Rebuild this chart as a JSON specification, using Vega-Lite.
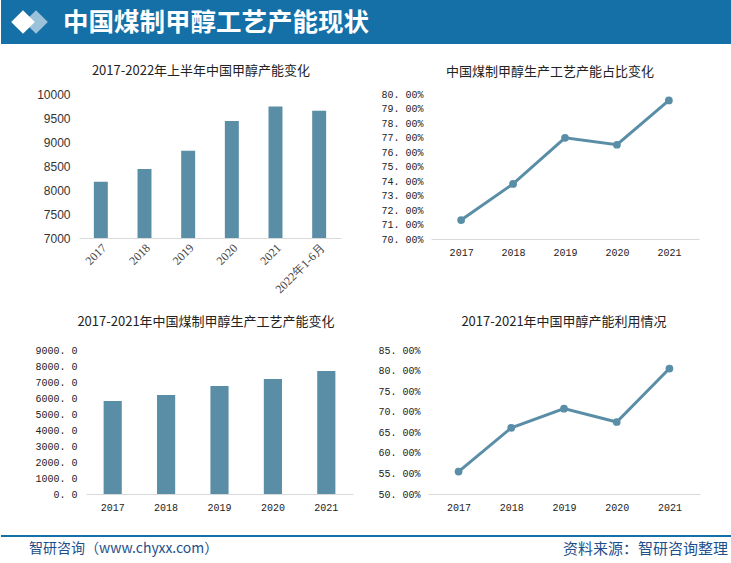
{
  "$schema": "https://vega.github.io/schema/vega-lite/v6.json",
  "background": "white",
  "padding": 0,
  "config": {
    "view": {"stroke": null},
    "axis": {"grid": false, "ticks": false, "domain": false, "labelColor": "#333333", "title": null},
    "title": {"font": "Noto Sans CJK SC", "fontSize": 13, "fontWeight": "normal", "color": "#222222"}
  },
  "datasets": {
    "cap": [
      {"year": "2017", "value": 8170},
      {"year": "2018", "value": 8440},
      {"year": "2019", "value": 8820},
      {"year": "2020", "value": 9440},
      {"year": "2021", "value": 9740},
      {"year": "2022年1-6月", "value": 9650}
    ],
    "share": [
      {"year": "2017", "value": 0.7131},
      {"year": "2018", "value": 0.7380},
      {"year": "2019", "value": 0.7698},
      {"year": "2020", "value": 0.7650},
      {"year": "2021", "value": 0.7956}
    ],
    "coal": [
      {"year": "2017", "value": 5812},
      {"year": "2018", "value": 6188},
      {"year": "2019", "value": 6750},
      {"year": "2020", "value": 7188},
      {"year": "2021", "value": 7688}
    ],
    "util": [
      {"year": "2017", "value": 0.5545},
      {"year": "2018", "value": 0.6610},
      {"year": "2019", "value": 0.7075},
      {"year": "2020", "value": 0.6750},
      {"year": "2021", "value": 0.8050}
    ],
    "header": [{"t": "中国煤制甲醇工艺产能现状"}],
    "footer": [{"l": "智研咨询（www.chyxx.com）", "r": "资料来源：智研咨询整理"}]
  },
  "columns": 1,
  "align": "none",
  "spacing": 21,
  "concat": [
    {
      "width": 731,
      "height": 44,
      "view": {"fill": "#1570a8", "stroke": null},
      "data": {"name": "header"},
      "layer": [
        {"mark": {"type": "point", "shape": "diamond", "filled": true, "color": "#9cc2da", "opacity": 1, "size": 560, "strokeWidth": 0}, "encoding": {"x": {"value": 35}, "y": {"value": 22}}},
        {"mark": {"type": "point", "shape": "diamond", "filled": true, "color": "#ffffff", "opacity": 1, "size": 560, "strokeWidth": 0}, "encoding": {"x": {"value": 22}, "y": {"value": 22}}},
        {"mark": {"type": "text", "align": "left", "baseline": "middle", "color": "#ffffff", "font": "Noto Sans CJK SC", "fontSize": 25.5, "fontWeight": "bold"}, "encoding": {"text": {"field": "t"}, "x": {"value": 62}, "y": {"value": 23}}}
      ]
    },
    {
      "columns": 1,
      "align": "none",
      "spacing": 20,
      "concat": [
        {
          "spacing": 20,
          "hconcat": [
            {
              "width": 340,
              "height": 144,
              "title": {"text": "2017-2022年上半年中国甲醇产能变化", "offset": 10, "dx": 30},
              "data": {"name": "cap"},
              "mark": {"type": "bar", "color": "#5a8ea7", "clip": true},
              "encoding": {
                "x": {"field": "year", "type": "nominal", "sort": null, "scale": {"range": [78, 340], "paddingInner": 0.68, "paddingOuter": 0.34},
                  "axis": {"labelAngle": -45, "labelFont": "Liberation Serif", "labelFontSize": 12, "labelColor": "#444444", "domain": true, "domainColor": "#d9d9d9", "labelPadding": 4}},
                "y": {"field": "value", "type": "quantitative", "scale": {"domain": [7000, 10000], "zero": false, "nice": false},
                  "axis": {"values": [7000, 7500, 8000, 8500, 9000, 9500, 10000], "format": "d", "labelFont": "Liberation Sans", "labelFontSize": 12, "labelPadding": 9, "offset": -78, "minExtent": 0}}
              }
            },
            {
              "width": 268,
              "height": 145,
              "title": {"text": "中国煤制甲醇生产工艺产能占比变化", "offset": 10, "dx": -15},
              "data": {"name": "share"},
              "encoding": {
                "x": {"field": "year", "type": "nominal", "sort": null, "scale": {"type": "point", "padding": 0.58},
                  "axis": {"labelAngle": 0, "labelFont": "Liberation Mono", "labelFontSize": 10, "labelColor": "#222222", "domain": true, "domainColor": "#d9d9d9", "labelPadding": 8}},
                "y": {"field": "value", "type": "quantitative", "scale": {"domain": [0.7, 0.8], "zero": false, "nice": false},
                  "axis": {"values": [0.70, 0.71, 0.72, 0.73, 0.74, 0.75, 0.76, 0.77, 0.78, 0.79, 0.80], "format": ".2%", "labelExpr": "replace(datum.label, '.', '. ')", "labelFont": "Liberation Mono", "labelFontSize": 10, "labelColor": "#222222", "labelPadding": 8, "minExtent": 70, "maxExtent": 70}}
              },
              "layer": [
                {"mark": {"type": "line", "color": "#5a8ea7", "strokeWidth": 3}},
                {"mark": {"type": "point", "filled": true, "color": "#5a8ea7", "opacity": 1, "size": 60}}
              ]
            }
          ]
        },
        {
          "spacing": 20,
          "hconcat": [
            {
              "width": 352,
              "height": 144,
              "title": {"text": "2017-2021年中国煤制甲醇生产工艺产能变化", "offset": 16, "dx": 29},
              "data": {"name": "coal"},
              "mark": {"type": "bar", "color": "#5a8ea7"},
              "encoding": {
                "x": {"field": "year", "type": "nominal", "sort": null, "scale": {"range": [85, 352], "paddingInner": 0.66, "paddingOuter": 0.33},
                  "axis": {"labelAngle": 0, "labelFont": "Liberation Mono", "labelFontSize": 10, "labelColor": "#222222", "domain": true, "domainColor": "#d9d9d9", "labelPadding": 8}},
                "y": {"field": "value", "type": "quantitative", "scale": {"domain": [0, 9000], "nice": false},
                  "axis": {"values": [0, 1000, 2000, 3000, 4000, 5000, 6000, 7000, 8000, 9000], "format": ".1f", "labelExpr": "replace(datum.label, '.', '. ')", "labelFont": "Liberation Mono", "labelFontSize": 10, "labelColor": "#222222", "labelPadding": 9, "offset": -85, "minExtent": 0}}
              }
            },
            {
              "width": 272,
              "height": 144,
              "title": {"text": "2017-2021年中国甲醇产能利用情况", "offset": 16},
              "data": {"name": "util"},
              "encoding": {
                "x": {"field": "year", "type": "nominal", "sort": null, "scale": {"type": "point", "padding": 0.58},
                  "axis": {"labelAngle": 0, "labelFont": "Liberation Mono", "labelFontSize": 10, "labelColor": "#222222", "domain": true, "domainColor": "#d9d9d9", "labelPadding": 8}},
                "y": {"field": "value", "type": "quantitative", "scale": {"domain": [0.5, 0.85], "zero": false, "nice": false},
                  "axis": {"values": [0.50, 0.55, 0.60, 0.65, 0.70, 0.75, 0.80, 0.85], "format": ".2%", "labelExpr": "replace(datum.label, '.', '. ')", "labelFont": "Liberation Mono", "labelFontSize": 10, "labelColor": "#222222", "labelPadding": 8, "minExtent": 55, "maxExtent": 55}}
              },
              "layer": [
                {"mark": {"type": "line", "color": "#5a8ea7", "strokeWidth": 3}},
                {"mark": {"type": "point", "filled": true, "color": "#5a8ea7", "opacity": 1, "size": 60}}
              ]
            }
          ]
        }
      ]
    },
    {
      "width": 731,
      "height": 26,
      "data": {"name": "footer"},
      "layer": [
        {"mark": {"type": "rule", "color": "#1570a8", "strokeWidth": 2}, "encoding": {"y": {"value": 3}}},
        {"mark": {"type": "text", "align": "left", "baseline": "middle", "color": "#1f4f8a", "font": "Noto Sans CJK SC", "fontSize": 14}, "encoding": {"text": {"field": "l"}, "x": {"value": 28}, "y": {"value": 16}}},
        {"mark": {"type": "text", "align": "right", "baseline": "middle", "color": "#1f4f8a", "font": "Noto Sans CJK SC", "fontSize": 15}, "encoding": {"text": {"field": "r"}, "x": {"value": 727}, "y": {"value": 16}}}
      ]
    }
  ]
}
